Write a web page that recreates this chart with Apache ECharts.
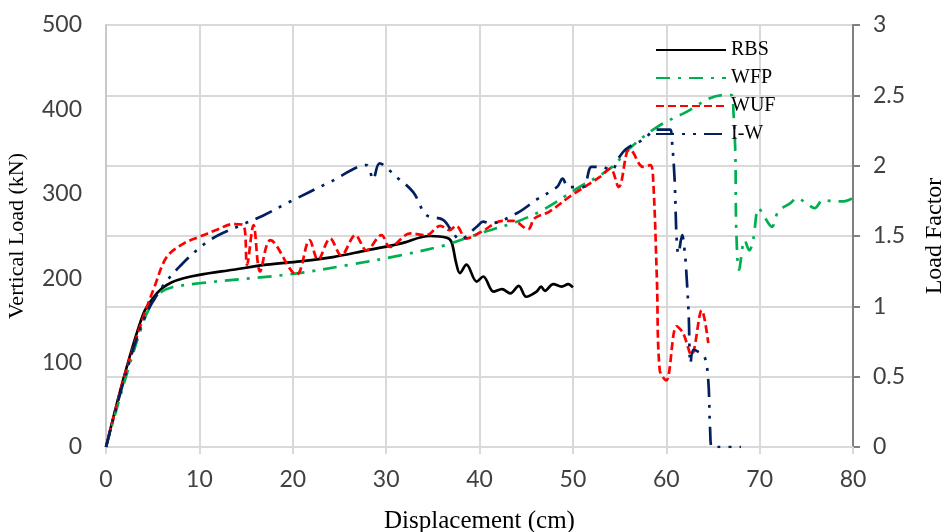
<!DOCTYPE html>
<html>
<head>
<meta charset="utf-8">
<script src="https://cdn.jsdelivr.net/npm/echarts@6/dist/echarts.min.js"></script>
<style>
  html, body { margin: 0; padding: 0; background: #fff; }
  #chart { width: 944px; height: 532px; }
</style>
</head>
<body>
<div id="chart"></div>
<script>
// values (load in kN, displacement in cm)
const rbsX = [0, 2, 4, 5, 6, 7, 8.3, 10, 13.6, 17.2, 20.8, 24.3, 27.9, 31.5, 34.7, 36.5, 37.0, 37.5, 37.9, 38.6, 39.7, 40.4, 41.5, 42.4, 43.3, 44.2, 45.0, 46.1, 46.6, 47.0, 47.9, 48.8, 49.5, 50.0];
const rbsY = [0, 86, 158, 176, 188, 195, 200, 204, 210, 216, 220, 225, 233, 241, 250, 248, 243, 218, 206, 216, 196, 202, 184, 187, 182, 191, 178, 184, 190, 185, 193, 190, 193, 189];

const wfpX = [0, 2, 4, 5, 5.8, 7, 10, 20, 26.1, 31.5, 36.3, 37.9, 40, 44, 46.8, 50.4, 54, 56.1, 59, 61.8, 66.1, 67, 67.2, 67.4, 67.5, 67.8, 68.4, 68.9, 69.3, 69.9, 70.6, 71.3, 72, 73.3, 74, 75, 75.9, 76.8, 77.9, 79, 80];
const wfpY = [0, 78, 148, 172, 183, 189, 194, 205, 216, 227, 239, 245, 253, 267, 281, 306, 330, 354, 379, 395, 417, 417, 396, 348, 257, 210, 245, 233, 245, 283, 271, 261, 279, 289, 295, 289, 283, 293, 291, 291, 295];

const wufX = [0, 2, 4, 5.2, 6.5, 8.3, 10, 11.8, 13.6, 14.7, 15.1, 15.8, 16.5, 17.6, 20.4, 21.8, 22.7, 24, 25.2, 26.7, 27.9, 29.5, 30.4, 32.6, 34.3, 35.8, 36.8, 37.5, 38.6, 40.2, 42.5, 43.6, 45.2, 45.9, 47.5, 49.7, 52.9, 54, 54.9, 55.8, 56.1, 57.5, 58.3, 58.6, 59.0, 59.3, 60.0, 61.1, 61.8, 62.7, 63.8, 64.5];
const wufY = [0, 85, 154, 190, 225, 241, 249, 257, 264, 263, 216, 263, 208, 245, 204, 245, 222, 247, 227, 251, 233, 251, 237, 253, 251, 262, 257, 262, 247, 255, 268, 268, 258, 271, 279, 297, 320, 330, 308, 350, 352, 332, 334, 316, 198, 91, 79, 143, 135, 109, 162, 123];

const iwX = [0, 2, 4, 5.8, 7.9, 11.1, 14.7, 16.8, 19.4, 24, 27.9, 28.6, 29.3, 31.1, 32.9, 34.3, 36.1, 37.2, 37.9, 39.7, 40.4, 41.1, 44, 46.1, 48.3, 48.9, 49.5, 51.1, 52, 53.1, 54.1, 55, 55.8, 57.5, 59, 60.4, 60.6, 60.9, 61.1, 61.3, 61.7, 62, 62.2, 62.4, 62.6, 62.9, 63.4, 64.1, 64.5, 64.7, 64.9, 68];
const iwY = [0, 82, 150, 186, 214, 245, 264, 274, 289, 314, 334, 317, 336, 320, 302, 275, 269, 253, 246, 261, 267, 265, 277, 293, 308, 318, 308, 308, 332, 332, 328, 344, 354, 364, 376, 376, 364, 316, 249, 229, 251, 229, 198, 158, 99, 115, 113, 107, 79, 20, 0, 0];

const seriesNames = ['RBS', 'WFP', 'WUF', 'I-W'];

const pairs = (xs, ys) => xs.map((x, i) => [x, ys[i]]);

const tickFont = { fontFamily: 'Lato', fontSize: 23, color: '#404040' };
const titleFont = { fontFamily: 'Liberation Serif', fontSize: 22, color: '#000' };

const chart = echarts.init(document.getElementById('chart'), null, { renderer: 'canvas' });

chart.setOption({
  animation: false,
  backgroundColor: '#fff',
  grid: { left: 106, right: 91, top: 25, bottom: 85, containLabel: false, outerBoundsMode: 'none' },
  legend: {
    data: seriesNames,
    orient: 'vertical',
    left: 650,
    top: 35,
    itemWidth: 70,
    itemHeight: 20,
    itemGap: 8,
    itemStyle: { opacity: 0 },
    textStyle: { fontFamily: 'Liberation Serif', fontSize: 20, color: '#000', lineHeight: 20 }
  },
  xAxis: {
    type: 'value',
    min: 0,
    max: 80,
    interval: 10,
    name: 'Displacement (cm)',
    nameLocation: 'middle',
    nameGap: 62,
    nameTextStyle: Object.assign({}, titleFont, { fontSize: 25 }),
    axisLine: { lineStyle: { color: '#d9d9d9', width: 2 } },
    axisTick: { show: true, length: 7, lineStyle: { color: '#d9d9d9', width: 2 } },
    axisLabel: Object.assign({ margin: 21 }, tickFont),
    splitLine: { lineStyle: { color: '#d9d9d9', width: 2 } }
  },
  yAxis: [
    {
      type: 'value',
      min: 0,
      max: 500,
      interval: 100,
      name: 'Vertical Load (kN)',
      nameLocation: 'middle',
      nameGap: 78,
      nameTextStyle: titleFont,
      axisLine: { show: true, lineStyle: { color: '#c8c8c8', width: 2 } },
      axisTick: { show: false },
      axisLabel: Object.assign({ margin: 24 }, tickFont),
      splitLine: { show: false }
    },
    {
      type: 'value',
      min: 0,
      max: 3,
      interval: 0.5,
      position: 'right',
      name: 'Load Factor',
      nameLocation: 'middle',
      nameGap: 70,
      nameTextStyle: Object.assign({}, titleFont, { fontSize: 24 }),
      axisLine: { show: true, lineStyle: { color: '#808080', width: 2 } },
      axisTick: { show: true, length: 7, lineStyle: { color: '#808080', width: 2 } },
      axisLabel: Object.assign({ margin: 20 }, tickFont),
      splitLine: { show: true, lineStyle: { color: '#d9d9d9', width: 2 } }
    }
  ],
  series: [
    {
      name: 'RBS',
      type: 'line',
      data: pairs(rbsX, rbsY),
      smooth: 0.35,
      symbol: 'none',
      lineStyle: { color: '#000000', width: 2.7 },
      itemStyle: { color: '#000000' }
    },
    {
      name: 'WFP',
      type: 'line',
      data: pairs(wfpX, wfpY),
      smooth: 0.35,
      symbol: 'none',
      lineStyle: { color: '#00b050', width: 2.7, type: [14, 8, 3, 8] },
      itemStyle: { color: '#00b050' }
    },
    {
      name: 'WUF',
      type: 'line',
      data: pairs(wufX, wufY),
      smooth: 0.35,
      symbol: 'none',
      lineStyle: { color: '#ff0000', width: 2.7, type: [8, 4] },
      itemStyle: { color: '#ff0000' }
    },
    {
      name: 'I-W',
      type: 'line',
      data: pairs(iwX, iwY),
      smooth: 0.35,
      symbol: 'none',
      lineStyle: { color: '#002060', width: 2.7, type: [18, 8, 3, 8, 3, 8] },
      itemStyle: { color: '#002060' }
    }
  ]
});

window.addEventListener('resize', () => chart.resize());
</script>
</body>
</html>
